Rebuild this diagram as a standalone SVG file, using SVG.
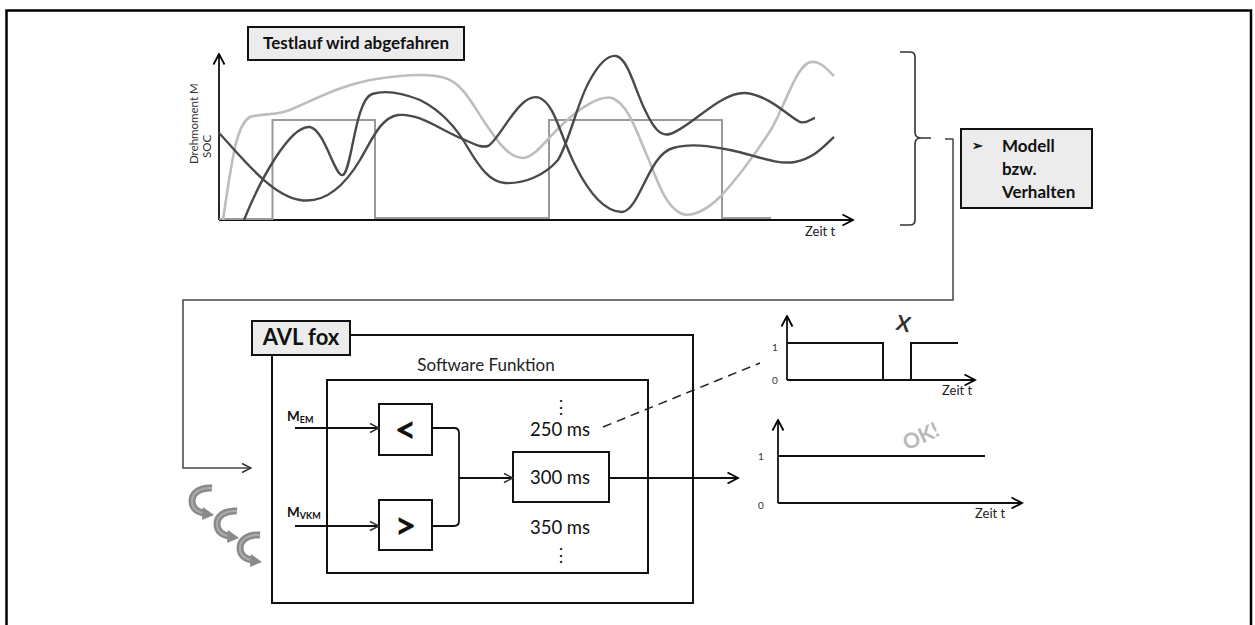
<svg xmlns="http://www.w3.org/2000/svg" width="1255" height="625" viewBox="0 0 1255 625">
<defs>
<marker id="ah" markerUnits="userSpaceOnUse" markerWidth="14" markerHeight="14" viewBox="0 0 14 14" refX="12.5" refY="7" orient="auto"><path d="M2,1.5 L12.5,7 L2,12.5" fill="none" stroke="#000" stroke-width="1.8"/></marker>
<marker id="ahs" markerUnits="userSpaceOnUse" markerWidth="12" markerHeight="12" viewBox="0 0 12 12" refX="11" refY="6" orient="auto"><path d="M2,1.5 L11,6 L2,10.5" fill="none" stroke="#333" stroke-width="1.5"/></marker>
<g id="curvedArrow">
<path d="M-1,-30 C-13,-31 -21,-25 -21,-17 C-21,-10 -16,-6 -9,-5" fill="none" stroke="#8a8a8a" stroke-width="7"/>
<path d="M-1,-30 C-13,-31 -21,-25 -21,-17 C-21,-10 -16,-6 -9,-5" fill="none" stroke="#ababab" stroke-width="2"/>
<polygon points="-10,-11 1,-3 -11,2" fill="#8a8a8a"/>
</g>
</defs>
<style>
.f{font-family:Lato,"Liberation Sans",sans-serif}
.b{font-weight:bold}
.ax{stroke:#111;stroke-width:1.8;fill:none}
.box{fill:#fff;stroke:#111;stroke-width:2}
.obox{fill:none;stroke:#111;stroke-width:2}
.gbox{fill:#ececec;stroke:#111;stroke-width:2}
.sig{stroke:#111;stroke-width:2;fill:none}
.con{stroke:#444;stroke-width:1.5;fill:none}
.ln{stroke:#111;stroke-width:1.8;fill:none}
</style>
<rect width="1255" height="625" fill="#fff"/>
<!-- outer frame -->
<path d="M6.5,625 V10.5 H1251 V625" fill="none" stroke="#000" stroke-width="2.5"/>

<!-- top chart -->
<g id="chart-top">
<line class="ax" x1="219" y1="220" x2="219" y2="54" marker-end="url(#ah)"/>
<line class="ax" x1="219" y1="220" x2="853" y2="220" marker-end="url(#ah)"/>
<text class="f" font-size="11.5" fill="#333" transform="translate(198,164) rotate(-90)">Drehmoment M</text>
<text class="f" font-size="11.5" fill="#333" transform="translate(211,158) rotate(-90)">SOC</text>
<text class="f" font-size="13" fill="#222" x="805" y="236">Zeit t</text>
<path d="M219,219 H272.5 V120 H375 V218 H549 V120 H722 V218 H771" fill="none" stroke="#9a9a9a" stroke-width="2"/>
<path d="M223,220 C232,160 236,125 250,117 C262,113 275,116 290,110 C320,97 340,86 370,80 C400,75 430,73 445,78 C465,84 475,110 490,130 C500,145 510,157 522,158 C535,158 545,140 565,122 C580,108 600,95 612,98 C628,104 636,130 648,158 C658,182 665,205 680,213 C690,218 705,212 722,195 C740,175 758,150 772,128 C785,105 795,70 808,63 C818,58 828,70 834,76" fill="none" stroke="#bdbdbd" stroke-width="2.6"/>
<path d="M219,133 C240,155 270,195 300,200 C325,204 345,185 360,160 C372,140 380,118 398,115 C420,113 440,130 465,140 C475,144 480,148 488,146 C500,140 520,90 540,98 C555,105 560,135 575,165 C590,195 605,212 622,212 C640,210 648,155 673,148 C690,143 710,146 730,150 C755,155 775,165 795,162 C815,158 825,145 834,137" fill="none" stroke="#4a4a4a" stroke-width="2.4"/>
<path d="M244,220 C260,180 290,125 310,127 C325,130 335,178 343,175 C352,170 355,100 372,94 C385,90 400,92 420,100 C440,110 455,125 468,148 C480,168 490,182 505,183 C525,184 545,175 558,160 C570,140 578,100 590,80 C600,62 608,55 616,56 C628,58 635,90 645,110 C653,127 660,137 670,134 C690,128 720,92 745,93 C770,95 790,118 800,122 C808,124 812,118 815,118" fill="none" stroke="#4a4a4a" stroke-width="2.4"/>
</g>

<g id="testlauf">
<rect class="gbox" x="248" y="27" width="216" height="33"/>
<text class="f b" font-size="17" fill="#111" x="356" y="49" text-anchor="middle">Testlauf wird abgefahren</text>
</g>

<g id="brace">
<path d="M900,52 H910 Q915,52 915,57 V132 Q915,138 921,138 H931 M921,138 Q915,138 915,144 V220 Q915,225 910,225 H900" fill="none" stroke="#333" stroke-width="1.6"/>
</g>

<g id="modell">
<rect class="gbox" x="961" y="129" width="131" height="79"/>
<text class="f b" font-size="13" fill="#111" x="972" y="150">➢</text>
<text class="f b" font-size="17" fill="#111" x="1002" y="152">Modell</text>
<text class="f b" font-size="17" fill="#111" x="1002" y="175">bzw.</text>
<text class="f b" font-size="17" fill="#111" x="1002" y="198">Verhalten</text>
</g>

<g id="avl">
<rect class="obox" x="272" y="335" width="421" height="268"/>
<rect class="gbox" x="252" y="321" width="98" height="34"/>
<text class="f b" font-size="22" fill="#111" x="301" y="345" text-anchor="middle">AVL fox</text>
</g>

<g id="software">
<text class="f" font-size="17" fill="#222" x="486" y="371" text-anchor="middle">Software Funktion</text>
<rect class="obox" x="327" y="380" width="321" height="193"/>
</g>

<g id="inputs">
<text class="f b" font-size="13.5" fill="#111" x="287" y="421">M<tspan font-size="9" dy="2">EM</tspan></text>
<text class="f b" font-size="13.5" fill="#111" x="287" y="517">M<tspan font-size="9" dy="2">VKM</tspan></text>
</g>

<g id="lt">
<rect class="box" x="379" y="404" width="53" height="51"/>
<text class="f b" font-size="38" fill="#111" x="405.5" y="443" text-anchor="middle">&lt;</text>
</g>
<g id="gt">
<rect class="box" x="379" y="500" width="53" height="50"/>
<text class="f b" font-size="38" fill="#111" x="405.5" y="539" text-anchor="middle">&gt;</text>
</g>

<g id="ms">
<text class="f" font-size="18" fill="#111" x="561" y="413" text-anchor="middle">⋮</text>
<text class="f" font-size="18.5" fill="#111" x="560" y="436" text-anchor="middle">250 ms</text>
<rect class="box" x="513" y="452" width="96" height="50"/>
<text class="f" font-size="18.5" fill="#111" x="560" y="484" text-anchor="middle">300 ms</text>
<text class="f" font-size="18.5" fill="#111" x="560" y="534" text-anchor="middle">350 ms</text>
<text class="f" font-size="18" fill="#111" x="561" y="561" text-anchor="middle">⋮</text>
</g>

<g id="curved-arrows">
<use href="#curvedArrow" x="213" y="518"/>
<use href="#curvedArrow" x="238" y="541"/>
<use href="#curvedArrow" x="261" y="565"/>
</g>

<g id="chart-x">
<line class="ax" x1="787" y1="380" x2="787" y2="316" marker-end="url(#ah)"/>
<line class="ax" x1="787" y1="380" x2="975" y2="380" marker-end="url(#ah)"/>
<path class="sig" d="M787,343 H883 V380 M911,380 V343 H958"/>
<text class="f" font-size="10" fill="#333" x="775" y="351" text-anchor="middle">1</text>
<text class="f" font-size="10" fill="#333" x="775" y="384" text-anchor="middle">0</text>
<text class="f" font-size="13" fill="#222" x="942" y="395">Zeit t</text>
<text class="f b" font-size="21" fill="#333" x="0" y="0" text-anchor="middle" transform="translate(902,331) rotate(12)">X</text>
</g>

<g id="chart-ok">
<line class="ax" x1="778" y1="503" x2="778" y2="420" marker-end="url(#ah)"/>
<line class="ax" x1="778" y1="503" x2="1022" y2="503" marker-end="url(#ah)"/>
<line class="sig" x1="778" y1="456" x2="985" y2="456"/>
<text class="f" font-size="10" fill="#333" x="761" y="460" text-anchor="middle">1</text>
<text class="f" font-size="10" fill="#333" x="761" y="509" text-anchor="middle">0</text>
<text class="f" font-size="13" fill="#222" x="975" y="518">Zeit t</text>
<text class="f b" font-size="21" fill="#b8b8b8" x="0" y="0" text-anchor="middle" transform="translate(924,443) rotate(-25)">OK!</text>
</g>

<g id="connectors">
<path class="con" d="M945,139 H953 V300 H183 V468 H251" marker-end="url(#ahs)"/>
<line class="ln" x1="295" y1="428" x2="379" y2="428" marker-end="url(#ahs)"/>
<line class="ln" x1="295" y1="526" x2="379" y2="526" marker-end="url(#ahs)"/>
<path class="ln" d="M432,428 H454 Q459,428 459,433 V521 Q459,526 454,526 H432"/>
<line class="ln" x1="459" y1="478" x2="513" y2="478" marker-end="url(#ahs)"/>
<line class="ln" x1="609" y1="478" x2="738" y2="478" marker-end="url(#ah)"/>
<line x1="603" y1="427" x2="760" y2="363" stroke="#222" stroke-width="1.5" stroke-dasharray="9,6"/>
</g>
</svg>
